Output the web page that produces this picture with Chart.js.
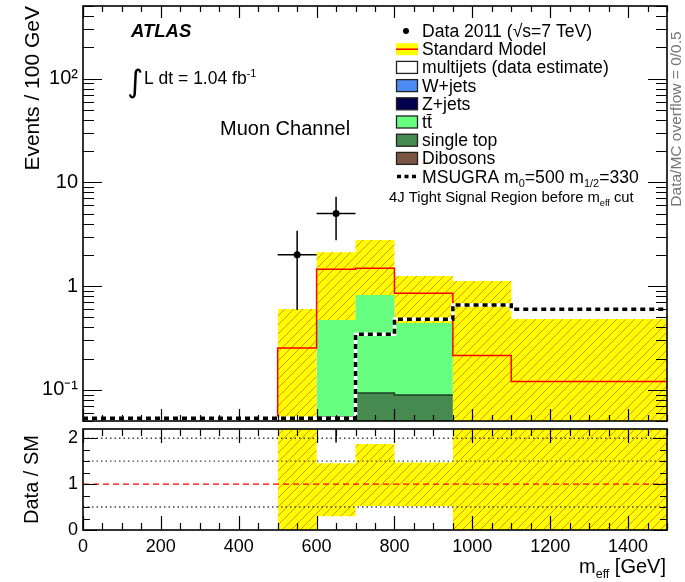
<!DOCTYPE html>
<html>
<head>
<meta charset="utf-8">
<script src="https://cdn.jsdelivr.net/npm/chart.js@4.4.1/dist/chart.umd.min.js"></script>
<style>
  body { margin: 0; background: #fff; }
  #wrap { position: relative; width: 685px; height: 582px; }
  canvas { position: absolute; left: 0; }
</style>
</head>
<body>
<div id="wrap">
  <canvas id="mainChart" width="685" height="425" style="top:0"></canvas>
  <canvas id="ratioChart" width="685" height="157" style="top:425px"></canvas>
</div>
<script>
// m_eff bin edges [GeV]
const binEdges = [0, 500, 600, 700, 800, 950, 1100, 1500];

// expectation per bin (events / 100 GeV)
const smTotal   = [0, 0.252, 1.45, 1.48, 0.85, 0.214, 0.12];
const smUp      = [0, 0.60, 2.11, 2.77, 1.25, 1.12, 0.48];
const smDown    = [0, 0, 0.435, 0.77, 0.44, 0, 0];
const wJets     = [0, 0, 0, 0, 0, 0, 0];
const zJets     = [0, 0, 0, 0, 0, 0, 0];
const ttbar     = [0, 0, 0.415, 0.727, 0.351, 0, 0];
const singleTop = [0, 0, 0.055, 0.093, 0.089, 0, 0];
const dibosons  = [0, 0, 0, 0, 0, 0, 0];
const msugra    = [0, 0, 0, 0.343, 0.478, 0.657, 0.597];

// observed events
const dataX = [550, 650];
const dataCounts = [2, 5];
const dataHalfWidth = 50;

// axis labels
const yDecades = [0.1, 1, 10, 100];
const yDecadeLabels = ['10⁻¹', '1', '10', '10²'];
const ratioLevels = [0.5, 1.5, 2];

const FONT = "'Liberation Sans', Arial, Helvetica, sans-serif";
const LOG_FLOOR = 1e-3;     // below the axis, gets clipped
const MSUGRA_ZERO = 0.053;  // empty signal bins sit on the bottom edge

// two points per bin -> step outline, null makes a gap
function histPoints(values) {
  const pts = [];
  values.forEach((v, i) => {
    pts.push({ x: binEdges[i], y: v }, { x: binEdges[i + 1], y: v });
  });
  return pts;
}

function hatch() {
  const c = document.createElement('canvas');
  c.width = 9; c.height = 9;
  const g = c.getContext('2d');
  g.fillStyle = '#ffff00';
  g.fillRect(0, 0, 9, 9);
  g.strokeStyle = '#ff8a00';
  g.lineWidth = 1;
  g.beginPath();
  g.moveTo(0, 9); g.lineTo(9, 0);
  g.moveTo(-2, 2); g.lineTo(2, -2);
  g.moveTo(7, 11); g.lineTo(11, 7);
  g.stroke();
  return g.createPattern(c, 'repeat');
}

const isDecade = v => Math.abs(Math.log10(v) - Math.round(Math.log10(v))) < 1e-6;

// inner tick marks and frame, ROOT style
const frameTicks = {
  id: 'frameTicks',
  afterDatasetsDraw(chart, args, opts) {
    const { ctx, chartArea: a, scales } = chart;
    ctx.save();
    ctx.strokeStyle = '#000';
    ctx.lineWidth = 1.2;
    ctx.beginPath();
    scales.y.ticks.forEach(t => {
      const py = Math.round(scales.y.getPixelForValue(t.value)) + 0.5;
      if (py < a.top - 1 || py > a.bottom + 1) return;
      const major = scales.y.type === 'logarithmic' ? isDecade(t.value) : Number.isInteger(t.value);
      const len = major ? opts.yMajor : opts.yMinor;
      ctx.moveTo(a.left, py); ctx.lineTo(a.left + len, py);
      ctx.moveTo(a.right, py); ctx.lineTo(a.right - len, py);
    });
    scales.x.ticks.forEach(t => {
      const px = Math.round(scales.x.getPixelForValue(t.value)) + 0.5;
      const len = t.value % 200 === 0 ? opts.xMajor : opts.xMinor;
      ctx.moveTo(px, a.bottom); ctx.lineTo(px, a.bottom - len);
      ctx.moveTo(px, a.top); ctx.lineTo(px, a.top + len);
    });
    ctx.stroke();
    ctx.lineWidth = 1.6;
    ctx.strokeRect(a.left, a.top, a.right - a.left, a.bottom - a.top);
    ctx.restore();
  }
};

// text with sub/superscript pieces: [text, 0 normal | 1 sub | 2 sup]
function drawRich(ctx, x, y, parts, size, align) {
  const fontFor = m => (m ? size * 0.62 : size) + 'px ' + FONT;
  let total = 0;
  parts.forEach(([t, m]) => { ctx.font = fontFor(m); total += ctx.measureText(t).width; });
  let cx = align === 'right' ? x - total : x;
  ctx.textAlign = 'left';
  parts.forEach(([t, m]) => {
    ctx.font = fontFor(m);
    const dy = m === 1 ? size * 0.25 : m === 2 ? -size * 0.42 : 0;
    ctx.fillText(t, cx, y + dy);
    cx += ctx.measureText(t).width;
  });
}

const legendRows = [
  { parts: [['Data 2011 (√s=7 TeV)', 0]], kind: 'marker' },
  { parts: [['Standard Model', 0]], kind: 'band' },
  { parts: [['multijets (data estimate)', 0]], kind: 'box', color: '#ffffff' },
  { parts: [['W+jets', 0]], kind: 'box', color: '#4d8cf5' },
  { parts: [['Z+jets', 0]], kind: 'box', color: '#00004f' },
  { parts: [['tt̄', 0]], kind: 'box', color: '#66ff80' },
  { parts: [['single top', 0]], kind: 'box', color: '#468a50' },
  { parts: [['Dibosons', 0]], kind: 'box', color: '#7b5443' },
  { parts: [['MSUGRA m', 0], ['0', 1], ['=500 m', 0], ['1/2', 1], ['=330', 0]], kind: 'dash' }
];

const mainText = {
  id: 'mainText',
  afterDraw(chart) {
    const ctx = chart.ctx;
    ctx.save();
    ctx.fillStyle = '#000';
    ctx.textBaseline = 'alphabetic';
    ctx.textAlign = 'left';
    ctx.font = 'italic bold 18.5px ' + FONT;
    ctx.fillText('ATLAS', 131, 37);
    ctx.font = "31px 'DejaVu Sans'";
    ctx.fillText('∫', 127, 92);
    drawRich(ctx, 144, 84, [['L dt = 1.04 fb', 0], ['-1', 2]], 17.5);
    ctx.font = '20px ' + FONT;
    ctx.fillText('Muon Channel', 220, 135);

    legendRows.forEach((row, i) => {
      const base = 37 + 18.2 * i;
      const cy = base - 6;
      ctx.save();
      if (row.kind === 'marker') {
        ctx.beginPath();
        ctx.arc(406, cy, 3, 0, Math.PI * 2);
        ctx.fill();
      } else if (row.kind === 'band') {
        ctx.fillStyle = '#ffff00';
        ctx.fillRect(396, cy - 6, 22, 12);
        ctx.strokeStyle = '#ff0000';
        ctx.lineWidth = 1.5;
        ctx.beginPath(); ctx.moveTo(396, cy); ctx.lineTo(418, cy); ctx.stroke();
      } else if (row.kind === 'box') {
        ctx.fillStyle = row.color;
        ctx.fillRect(396.5, cy - 6, 21, 12);
        ctx.strokeStyle = '#222';
        ctx.lineWidth = 1.3;
        ctx.strokeRect(396.5, cy - 6, 21, 12);
      } else {
        ctx.strokeStyle = '#000';
        ctx.lineWidth = 3.5;
        ctx.setLineDash([4, 3.5]);
        ctx.beginPath(); ctx.moveTo(397, cy); ctx.lineTo(419, cy); ctx.stroke();
      }
      ctx.restore();
      drawRich(ctx, 422, base, row.parts, 17.6);
    });

    drawRich(ctx, 389, 202, [['4J Tight Signal Region before m', 0], ['eff', 1], [' cut', 0]], 14.8);

    ctx.save();
    ctx.translate(681, 119);
    ctx.rotate(-Math.PI / 2);
    ctx.fillStyle = '#777';
    ctx.font = '15.5px ' + FONT;
    ctx.textAlign = 'center';
    ctx.fillText('Data/MC overflow = 0/0.5', 0, 0);
    ctx.restore();
    ctx.restore();
  }
};

const ratioText = {
  id: 'ratioText',
  afterDraw(chart) {
    const ctx = chart.ctx;
    ctx.save();
    ctx.fillStyle = '#000';
    ctx.textBaseline = 'alphabetic';
    drawRich(ctx, 666, 148, [['m', 0], ['eff', 1], [' [GeV]', 0]], 20, 'right');
    ctx.restore();
  }
};

function xTicks(scale) {
  const t = [];
  for (let v = 0; v <= 1500; v += 50) t.push({ value: v });
  scale.ticks = t;
}

// fixed plot frame: no extra room for half-labels at the ends
function fitY(s) { s.width = 83; s.paddingTop = 0; s.paddingBottom = 0; }
function fitX(h) {
  return s => { s.height = h; s.paddingLeft = 0; s.paddingRight = 0; };
}

const band = hatch();
const noGrid = { display: false, drawTicks: false, tickLength: 0 };

// ---------- main panel ----------
const bandHi = smTotal.map((s, i) => s > 0 ? smUp[i] : null);
const bandLo = smTotal.map((s, i) => s > 0 ? Math.max(smDown[i], LOG_FLOOR) : null);

// stacked backgrounds, cumulative from the bottom
const stackOrder = [
  { vals: dibosons, color: '#7b5443' },
  { vals: singleTop, color: '#468a50' },
  { vals: ttbar, color: '#66ff80' },
  { vals: zJets, color: '#00004f' },
  { vals: wJets, color: '#4d8cf5' }
];
let running = smTotal.map(() => 0);
const stackSets = stackOrder.map((c, k) => {
  running = running.map((r, i) => r + c.vals[i]);
  const top = running.map((r, i) => c.vals[i] > 0 ? r : null);
  return {
    data: histPoints(top),
    backgroundColor: c.color,
    borderColor: k === 1 ? '#1d3d22' : c.color,
    borderWidth: k === 1 ? 1.5 : 0,
    fill: 'start',
    order: 5 + k
  };
});

const errPoints = [];
dataX.forEach((x, i) => {
  const n = dataCounts[i], e = Math.sqrt(n);
  errPoints.push({ x: x, y: n - e }, { x: x, y: n + e }, { x: x, y: null },
                 { x: x - dataHalfWidth, y: n }, { x: x + dataHalfWidth, y: n }, { x: x, y: null });
});

const lineDefaults = { pointRadius: 0, spanGaps: false, tension: 0 };

new Chart(document.getElementById('mainChart'), {
  type: 'line',
  data: {
    datasets: [
      { data: dataX.map((x, i) => ({ x: x, y: dataCounts[i] })), showLine: false,
        pointRadius: 3.5, pointBackgroundColor: '#000', pointBorderWidth: 0, order: 0 },
      Object.assign({ data: errPoints, borderColor: '#000', borderWidth: 1.5, order: 1 }, lineDefaults),
      Object.assign({ data: histPoints(msugra.map(v => v > 0 ? v : MSUGRA_ZERO)), borderColor: '#000',
        borderWidth: 3.5, borderDash: [5, 4], order: 2 }, lineDefaults),
      Object.assign({ data: histPoints(msugra.map(v => v > 0 ? v : MSUGRA_ZERO)), borderColor: '#fff',
        borderWidth: 3.5, order: 3 }, lineDefaults),
      Object.assign({ data: histPoints(smTotal.map(v => v > 0 ? v : LOG_FLOOR)), borderColor: '#ff0000',
        borderWidth: 1.5, order: 4 }, lineDefaults),
      ...stackSets.map(s => Object.assign(s, lineDefaults)),
      Object.assign({ data: histPoints(bandHi), borderWidth: 0, backgroundColor: band,
        fill: '+1', order: 20 }, lineDefaults),
      Object.assign({ data: histPoints(bandLo), borderWidth: 0, order: 21 }, lineDefaults)
    ]
  },
  options: {
    responsive: false,
    animation: false,
    events: [],
    layout: { padding: { top: 6, right: 18, bottom: 3, left: 0 } },
    plugins: {
      legend: { display: false },
      tooltip: { enabled: false },
      frameTicks: { yMajor: 19, yMinor: 11, xMajor: 12, xMinor: 6 }
    },
    scales: {
      x: {
        type: 'linear', min: 0, max: 1500,
        ticks: { display: false },
        grid: noGrid,
        border: { display: false },
        afterBuildTicks: xTicks,
        afterFit: fitX(0)
      },
      y: {
        type: 'logarithmic', min: 0.05, max: 500,
        grid: noGrid,
        border: { display: false },
        afterFit: fitY,
        afterBuildTicks: s => {
          const t = [];
          for (let e = -2; e <= 2; e++) {
            for (let m = 1; m <= 9; m++) {
              const v = parseFloat((m * Math.pow(10, e)).toPrecision(6));
              if (v >= s.min - 1e-9 && v <= s.max + 1e-9) t.push({ value: v });
            }
          }
          s.ticks = t;
        },
        ticks: {
          autoSkip: false, padding: 5, color: '#000',
          font: { family: FONT, size: 20 },
          callback: v => {
            const k = yDecades.findIndex(d => Math.abs(d - v) / d < 1e-6);
            return k < 0 ? '' : yDecadeLabels[k];
          }
        },
        title: {
          display: true, text: 'Events / 100 GeV', align: 'end', color: '#000',
          font: { family: FONT, size: 21 }, padding: { top: 21, bottom: 0 }
        }
      }
    }
  },
  plugins: [frameTicks, mainText]
});

// ---------- ratio panel ----------
const ratioHi = smTotal.map((s, i) => s > 0 ? smUp[i] / s : null);
const ratioLo = smTotal.map((s, i) => s > 0 ? smDown[i] / s : null);
const dataBin = dataX.map(x => binEdges.findIndex((e, i) => x >= e && x < binEdges[i + 1]));
const ratioPoints = [];
const ratioErr = [];
dataX.forEach((x, i) => {
  const s = smTotal[dataBin[i]];
  const r = dataCounts[i] / s, e = Math.sqrt(dataCounts[i]) / s;
  ratioPoints.push({ x: x, y: r });
  ratioErr.push({ x: x, y: r - e }, { x: x, y: r + e }, { x: x, y: null },
                { x: x - dataHalfWidth, y: r }, { x: x + dataHalfWidth, y: r }, { x: x, y: null });
});

new Chart(document.getElementById('ratioChart'), {
  type: 'line',
  data: {
    datasets: [
      { data: ratioPoints, showLine: false, pointRadius: 3.5, pointBackgroundColor: '#000',
        pointBorderWidth: 0, order: 0 },
      Object.assign({ data: ratioErr, borderColor: '#000', borderWidth: 1.5, order: 1 }, lineDefaults),
      Object.assign({ data: [{ x: 0, y: 1 }, { x: 1500, y: 1 }], borderColor: '#ff0000',
        borderWidth: 1.4, borderDash: [6, 4], order: 2 }, lineDefaults),
      ...ratioLevels.map(l => Object.assign({ data: [{ x: 0, y: l }, { x: 1500, y: l }],
        borderColor: '#444', borderWidth: 1.4, borderDash: [1.5, 3], order: 3 }, lineDefaults)),
      Object.assign({ data: histPoints(ratioHi), borderWidth: 0, backgroundColor: band,
        fill: '+1', order: 20 }, lineDefaults),
      Object.assign({ data: histPoints(ratioLo), borderWidth: 0, order: 21 }, lineDefaults)
    ]
  },
  options: {
    responsive: false,
    animation: false,
    events: [],
    layout: { padding: { top: 3, right: 18, bottom: 0, left: 0 } },
    plugins: {
      legend: { display: false },
      tooltip: { enabled: false },
      frameTicks: { yMajor: 14, yMinor: 7, xMajor: 14, xMinor: 7 }
    },
    scales: {
      x: {
        type: 'linear', min: 0, max: 1500,
        grid: noGrid,
        border: { display: false },
        afterBuildTicks: xTicks,
        afterFit: fitX(52),
        ticks: {
          autoSkip: false, maxRotation: 0, padding: 6, color: '#000',
          font: { family: FONT, size: 18 },
          callback: v => v % 200 === 0 ? String(v) : ''
        }
      },
      y: {
        type: 'linear', min: 0, max: 2.2,
        grid: noGrid,
        border: { display: false },
        afterFit: fitY,
        afterBuildTicks: s => {
          const t = [];
          for (let k = 0; k <= 8; k++) t.push({ value: k / 4 });
          s.ticks = t;
        },
        ticks: {
          autoSkip: false, padding: 5, color: '#000',
          font: { family: FONT, size: 18 },
          callback: v => Number.isInteger(v) ? String(v) : ''
        },
        title: {
          display: true, text: 'Data / SM', color: '#000',
          font: { family: FONT, size: 20 }, padding: { top: 20, bottom: 0 }
        }
      }
    }
  },
  plugins: [frameTicks, ratioText]
});
</script>
</body>
</html>
